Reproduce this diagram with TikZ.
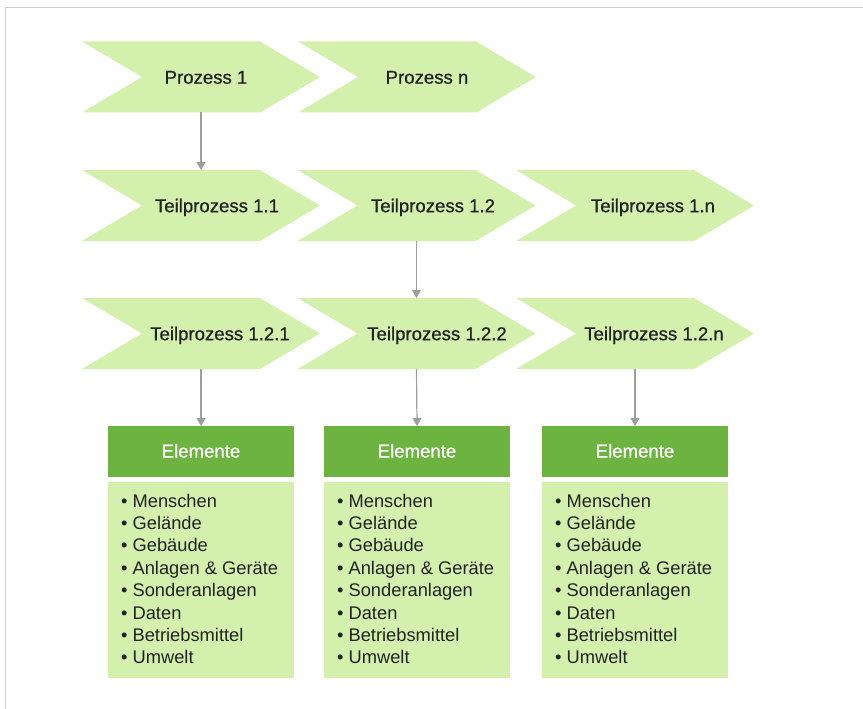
\documentclass[tikz,border=0pt]{standalone}
\usepackage{fontspec}
\setmainfont{Liberation Sans}
\newfontfamily\medfont{Liberation Sans}[FakeBold=0.6]
\usetikzlibrary{calc,arrows.meta}
\definecolor{chev}{HTML}{D4F0AD}
\definecolor{hdr}{HTML}{6DB33F}
\definecolor{txt}{HTML}{222222}
\definecolor{arr}{HTML}{9E9E9E}
\definecolor{framec}{HTML}{CCCCCC}
\newcommand\chevshape[1]{\fill[chev] (#1.north west) -- ($(#1.north east)+(-60,0)$) -- (#1.east) -- ($(#1.south east)+(-60,0)$) -- (#1.south west) -- ($(#1.west)+(60,0)$) -- cycle;}
\begin{document}
\begin{tikzpicture}[x=1pt,y=-1pt,
  chevbox/.style={minimum width=238pt, minimum height=71pt, inner sep=0pt, outer sep=0pt},
  lbl/.style={font=\medfont\fontsize{18.6}{20}\selectfont, text=txt, inner sep=0pt, anchor=base},
  hlbl/.style={font=\medfont\fontsize{18.6}{20}\selectfont, text=white, inner sep=0pt, anchor=base},
  conn/.style={draw=arr, line width=1.2pt, -{Triangle[width=9pt,length=8pt]}},
  hdrbox/.style={fill=hdr, minimum width=186pt, minimum height=51pt, inner sep=0pt, outer sep=0pt},
  bodybox/.style={fill=chev, minimum width=186pt, minimum height=196pt, inner sep=0pt, outer sep=0pt},
  item/.style={font=\fontsize{18.3}{20}\selectfont, text=txt, inner sep=0pt, anchor=base west}]
\useasboundingbox (0,0) rectangle (863,709);
\draw[framec, line width=1.5pt] (5.5,709) -- (5.5,7.5) -- (863,7.5);
% row 1
\node[chevbox] (p1) at (201,77) {};
\node[chevbox] (pn) at (417,77) {};
% row 2
\node[chevbox] (t11) at (201,205.5) {};
\node[chevbox] (t12) at (416.5,205.5) {};
\node[chevbox] (t1n) at (635,205.5) {};
% row 3
\node[chevbox] (t121) at (201,333.5) {};
\node[chevbox] (t122) at (416.5,333.5) {};
\node[chevbox] (t12n) at (635,333.5) {};
\foreach \c in {p1,pn,t11,t12,t1n,t121,t122,t12n}{\chevshape{\c}}
\node[lbl] (lp1) at (206,83.7) {Prozess 1};
\node[lbl] (lpn) at (427,83.7) {Prozess n};
\node[lbl] (lt11) at (217,212.2) {Teilprozess 1.1};
\node[lbl] (lt12) at (433,212.2) {Teilprozess 1.2};
\node[lbl] (lt1n) at (653,212.2) {Teilprozess 1.n};
\node[lbl] (lt121) at (220,340.2) {Teilprozess 1.2.1};
\node[lbl] (lt122) at (437,340.2) {Teilprozess 1.2.2};
\node[lbl] (lt12n) at (654,340.2) {Teilprozess 1.2.n};
% boxes
\foreach \i/\cx in {1/201,2/417,3/635}{
  \node[hdrbox] (h\i) at (\cx,451.5) {};
  \node[hlbl] (hl\i) at (\cx,457.5) {Elemente};
  \node[bodybox] (b\i) at (\cx,580) {};
  \foreach \t [count=\k from 0] in {Menschen,Gelände,Gebäude,Anlagen \& Geräte,Sonderanlagen,Daten,Betriebsmittel,Umwelt}{
    \node[item] (b\i l\k) at ($(\cx,507)+(-80,22.4*\k)$) {\textbullet\hspace{5pt}\t};
  }
}
% connectors
\draw[conn] (p1.south) -- (t11.north);
\draw[conn] (t12.south) -- (t122.north);
\draw[conn] (t121.south) -- (h1.north);
\draw[conn] (t122.south) -- (h2.north);
\draw[conn] (t12n.south) -- (h3.north);
\end{tikzpicture}
\end{document}
